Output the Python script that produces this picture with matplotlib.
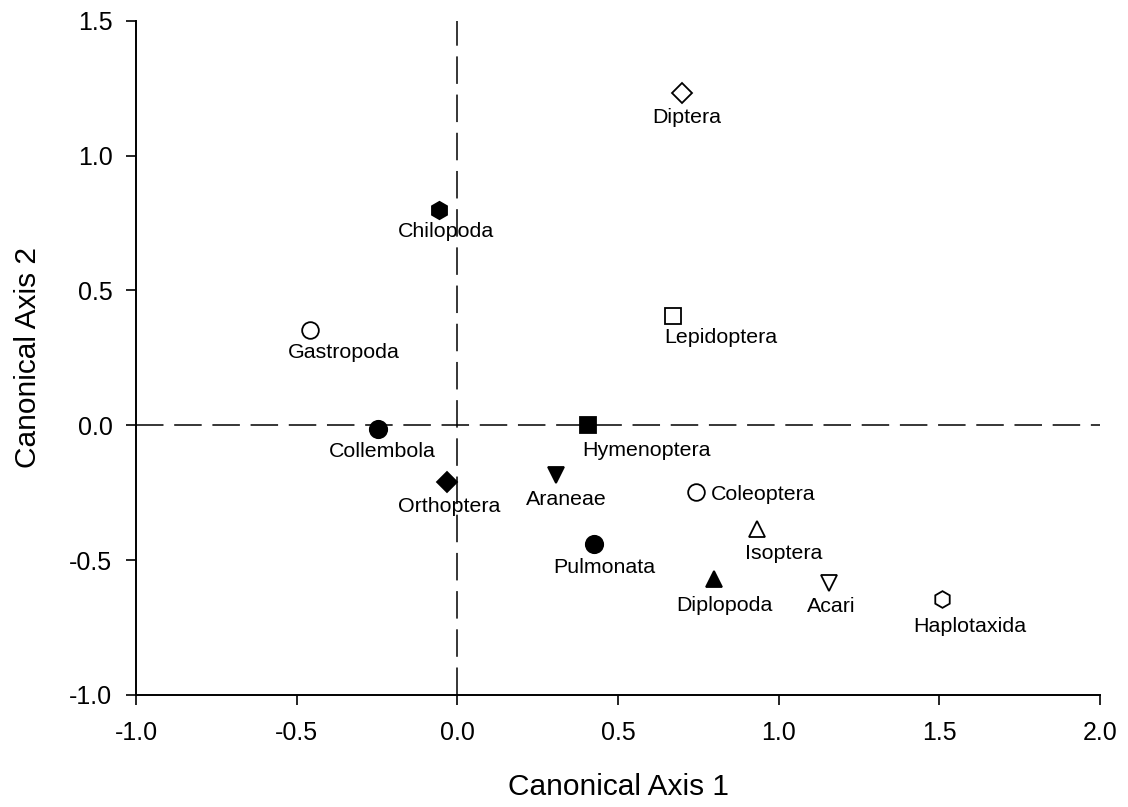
import matplotlib
matplotlib.use('Agg')
import matplotlib.pyplot as plt

plt.rcParams['font.family'] = ['Liberation Sans', 'DejaVu Sans']

# taxa scores on the two canonical axes
taxa = ['Diptera', 'Chilopoda', 'Lepidoptera', 'Gastropoda', 'Collembola',
        'Hymenoptera', 'Orthoptera', 'Araneae', 'Coleoptera', 'Isoptera',
        'Pulmonata', 'Diplopoda', 'Acari', 'Haplotaxida']
axis1 = [0.70, -0.057, 0.67, -0.458, -0.248,
         0.406, -0.031, 0.306, 0.743, 0.931,
         0.425, 0.80, 1.155, 1.508]
axis2 = [1.231, 0.80, 0.406, 0.352, -0.012,
         0.0, -0.212, -0.183, -0.246, -0.386,
         -0.442, -0.570, -0.583, -0.645]

# marker shape, filled?, marker size
style = {
    'Diptera': ('D', False, 10.5),
    'Chilopoda': ('h', True, 12.5),
    'Lepidoptera': ('s', False, 11),
    'Gastropoda': ('o', False, 12),
    'Collembola': ('o', True, 12.5),
    'Hymenoptera': ('s', True, 11.5),
    'Orthoptera': ('D', True, 10.5),
    'Araneae': ('v', True, 12),
    'Coleoptera': ('o', False, 12),
    'Isoptera': ('^', False, 11.5),
    'Pulmonata': ('o', True, 12.5),
    'Diplopoda': ('^', True, 12),
    'Acari': ('v', False, 11.5),
    'Haplotaxida': ('h', False, 12),
}

# label offsets in pixels (dx, dy downward)
offsets = {
    'Diptera': (4, 24), 'Chilopoda': (7, 22), 'Lepidoptera': (48, 22),
    'Gastropoda': (34, 22), 'Collembola': (5, 23), 'Hymenoptera': (59, 25),
    'Orthoptera': (2, 24), 'Araneae': (11, 25), 'Isoptera': (27, 24),
    'Pulmonata': (10, 23), 'Diplopoda': (10, 26), 'Acari': (3, 24),
    'Haplotaxida': (28, 27),
}

fig = plt.figure(figsize=(11.28, 8.07), dpi=100)
ax = fig.add_axes([0.1206, 0.1388, 0.8546, 0.8355])

# dashed reference lines through the origin
ax.axhline(0, color='black', lw=1.1, dashes=(18, 7), zorder=1)
ax.axvline(0, color='black', lw=1.1, dashes=(18, 7), zorder=1)

for name, x, y in zip(taxa, axis1, axis2):
    m, filled, ms = style[name]
    ax.plot(x, y, marker=m, ms=ms, mec='black', mew=1.3,
            mfc='black' if filled else 'white', ls='none', zorder=3)
    if name == 'Coleoptera':
        ax.annotate(name, (x, y), xytext=(15, -3), textcoords='offset pixels',
                    ha='left', va='center', fontsize=15.4)
    else:
        dx, dy = offsets[name]
        ax.annotate(name, (x, y), xytext=(dx, -dy), textcoords='offset pixels',
                    ha='center', va='center', fontsize=15.4)

ax.set_xlim(-1.0, 2.0)
ax.set_ylim(-1.0, 1.5)
ax.set_xticks([-1.0, -0.5, 0.0, 0.5, 1.0, 1.5, 2.0])
ax.set_yticks([-1.0, -0.5, 0.0, 0.5, 1.0, 1.5])
ax.xaxis.set_major_formatter(plt.FormatStrFormatter('%.1f'))
ax.yaxis.set_major_formatter(plt.FormatStrFormatter('%.1f'))

ax.spines['top'].set_visible(False)
ax.spines['right'].set_visible(False)
ax.spines['left'].set_linewidth(1.4)
ax.spines['bottom'].set_linewidth(1.4)
ax.tick_params(direction='out', length=7, width=1.2, labelsize=18)
ax.tick_params(axis='x', pad=12)
ax.tick_params(axis='y', pad=10)

ax.set_xlabel('Canonical Axis 1', fontsize=21.5, labelpad=20)
ax.set_ylabel('Canonical Axis 2', fontsize=21.5, labelpad=20)

fig.savefig('out.png', dpi=100)
